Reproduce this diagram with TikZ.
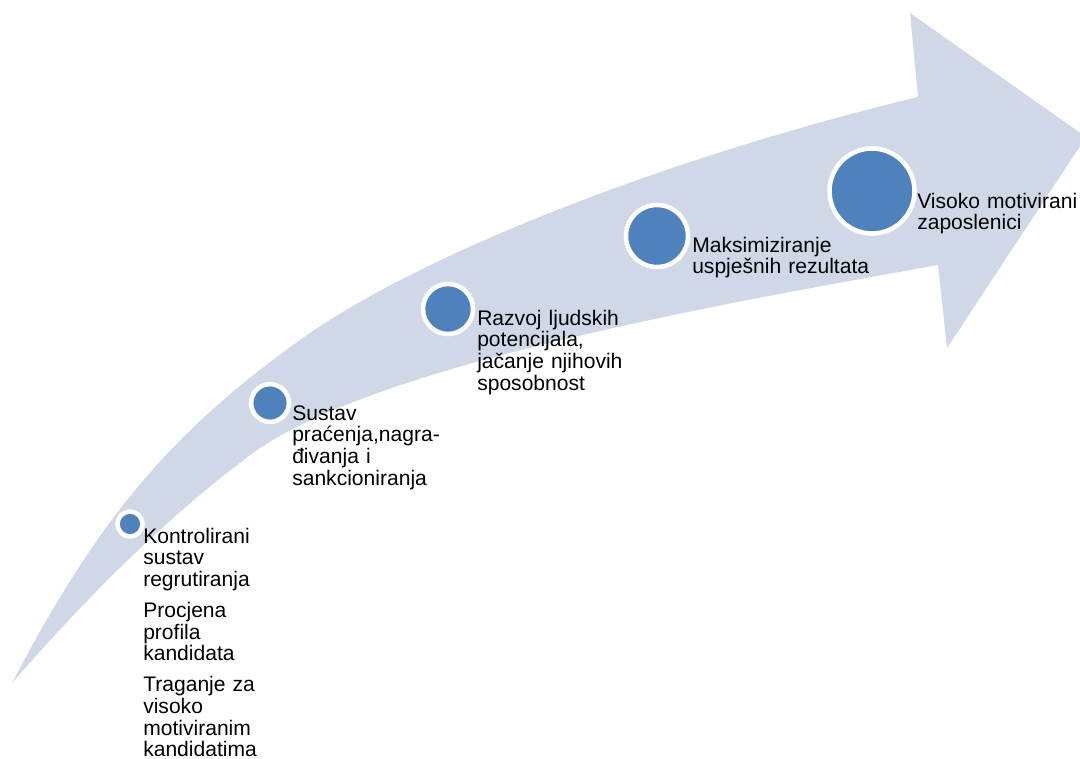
\documentclass[tikz,border=0pt]{standalone}
\usepackage{fontspec}
\setmainfont{Liberation Sans}
\definecolor{bandfill}{HTML}{D0D8E8}
\definecolor{dotblue}{HTML}{4F81BD}
\begin{document}
\begin{tikzpicture}[x=0.75pt,y=-0.75pt,
  dot/.style={circle, fill=dotblue, draw=white, line width=3.4pt, inner sep=0pt, minimum size=#1},
  lbl/.style={anchor=base west, inner sep=0pt, text width=200pt, align=left,
    font=\fontsize{15.8pt}{16.3pt}\selectfont}]
\clip (0,0) rectangle (1080,758);
% curved arrow
\fill[bandfill] (12,683) .. controls (98,519) and (170,433) .. (300,340)
  .. controls (418,255) and (665,158) .. (918,97)
  -- (910,13) -- (1086,137) -- (947,348) -- (938,265)
  .. controls (708,306) and (373,366) .. (253,453)
  .. controls (173,512) and (92,591) .. (12,683) -- cycle;
% circles
\node[dot=18.75pt] (c1) at (130,524) {};
\node[dot=28.3pt] (c2) at (270,403) {};
\node[dot=37.5pt] (c3) at (448,309) {};
\node[dot=46.5pt] (c4) at (657,236) {};
\node[dot=63.75pt] (c5) at (872,191) {};
% labels
\node[lbl] (t1) at (143,543) {Kontrolirani\\sustav\\regrutiranja\\[6.8pt]Procjena\\profila\\kandidata\\[6.8pt]Traganje za\\visoko\\motiviranim\\kandidatima};
\node[lbl] (t2) at (292,420) {Sustav\\praćenja,nagra-\\đivanja i\\sankcioniranja};
\node[lbl] (t3) at (477,325) {Razvoj ljudskih\\potencijala,\\jačanje njihovih\\sposobnost};
\node[lbl] (t4) at (692,252) {Maksimiziranje\\uspješnih rezultata};
\node[lbl] (t5) at (917,208) {Visoko motivirani\\zaposlenici};
\end{tikzpicture}
\end{document}
